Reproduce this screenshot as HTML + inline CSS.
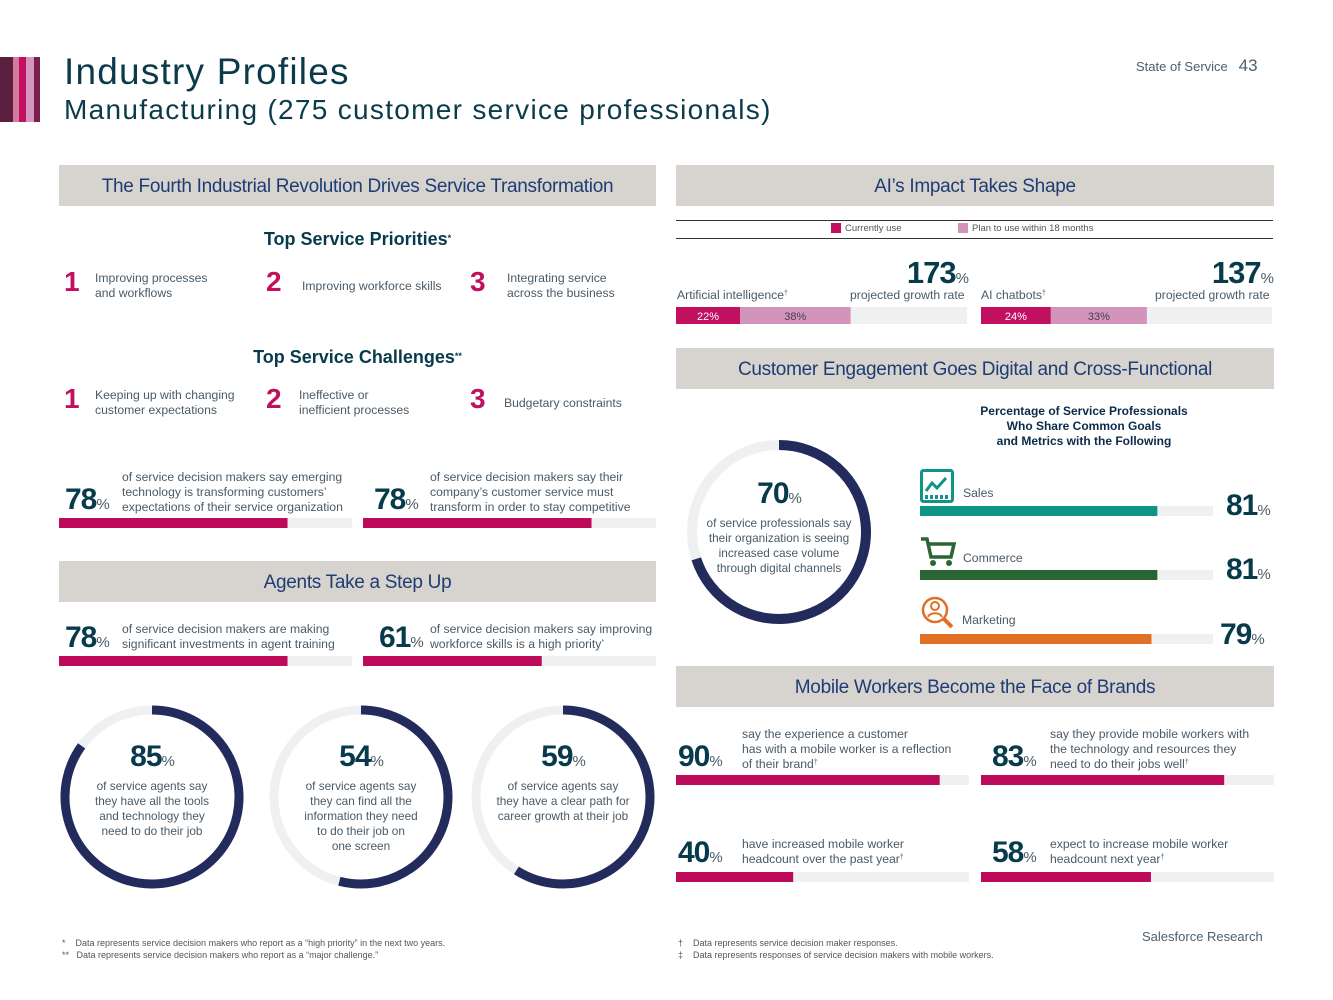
<!DOCTYPE html>
<html><head><meta charset="utf-8"><style>
*{margin:0;padding:0;box-sizing:border-box}
body{width:1333px;height:1000px;background:#fff;position:relative;overflow:hidden;font-family:"Liberation Sans",sans-serif;color:#0b3b4a}
.a{position:absolute}
sup{line-height:0;vertical-align:4px}
.band{position:absolute;background:#d7d3cf;height:41px;color:#1f3c73;font-size:19px;text-align:center;line-height:43px;letter-spacing:-0.3px}
.sm{font-size:12.2px;color:#4a5a66;line-height:15px}
.big{font-weight:bold;color:#073b4c;letter-spacing:-1px}
.pct{font-size:15px;font-weight:normal;color:#4a5a66}
.num{font-size:28px;color:#c0105f;font-weight:bold}
.h3{font-size:18px;font-weight:bold;color:#073b4c;text-align:center}
.ctr{text-align:center}
</style></head><body>
<div class="a" style="left:0;top:57px;width:40px;height:65px;background:linear-gradient(90deg,#5b1f40 0 13px,#d47a9c 13px 19px,#c0105f 19px 26px,#d596bd 26px 34px,#7a1f4c 34px 40px)"></div>
<div class="a" style="left:64px;top:51px;font-size:37px;color:#0b3b4a;letter-spacing:1.2px">Industry Profiles</div>
<div class="a" style="left:64px;top:94px;font-size:28px;color:#0b3b4a;letter-spacing:1.3px">Manufacturing (275 customer service professionals)</div>
<div class="a" style="left:1136px;top:56px;font-size:13px;color:#4a6170">State of Service&nbsp;&nbsp; <span style="font-size:17px">43</span></div>

<div class="band" style="left:59px;top:165px;width:597px">The Fourth Industrial Revolution Drives Service Transformation</div>
<div class="band" style="left:676px;top:165px;width:598px">AI’s Impact Takes Shape</div>

<div class="a h3" style="left:59px;width:597px;top:229px">Top Service Priorities<sup style="font-size:9px">*</sup></div>
<div class="a num" style="left:64px;top:266px">1</div>
<div class="a sm" style="left:95px;top:271px">Improving processes<br>and workflows</div>
<div class="a num" style="left:266px;top:266px">2</div>
<div class="a sm" style="left:302px;top:279px">Improving workforce skills</div>
<div class="a num" style="left:470px;top:266px">3</div>
<div class="a sm" style="left:507px;top:271px">Integrating service<br>across the business</div>

<div class="a h3" style="left:59px;width:597px;top:347px">Top Service Challenges<sup style="font-size:9px">**</sup></div>
<div class="a num" style="left:64px;top:383px">1</div>
<div class="a sm" style="left:95px;top:388px">Keeping up with changing<br>customer expectations</div>
<div class="a num" style="left:266px;top:383px">2</div>
<div class="a sm" style="left:299px;top:388px">Ineffective or<br>inefficient processes</div>
<div class="a num" style="left:470px;top:383px">3</div>
<div class="a sm" style="left:504px;top:396px">Budgetary constraints</div>

<div class="a big" style="left:65px;top:483px;font-size:30px">78<span class="pct">%</span></div>
<div class="a sm" style="left:122px;top:470px">of service decision makers say emerging<br>technology is transforming customers’<br>expectations of their service organization</div>
<div class="a big" style="left:374px;top:483px;font-size:30px">78<span class="pct">%</span></div>
<div class="a sm" style="left:430px;top:470px">of service decision makers say their<br>company’s customer service must<br>transform in order to stay competitive</div>

<div class="band" style="left:59px;top:561px;width:597px">Agents Take a Step Up</div>
<div class="a big" style="left:65px;top:621px;font-size:30px">78<span class="pct">%</span></div>
<div class="a sm" style="left:122px;top:622px">of service decision makers are making<br>significant investments in agent training</div>
<div class="a big" style="left:379px;top:621px;font-size:30px">61<span class="pct">%</span></div>
<div class="a sm" style="left:430px;top:622px">of service decision makers say improving<br>workforce skills is a high priority<sup style="font-size:7px">*</sup></div>

<!-- AI legend -->
<div class="a" style="left:676px;top:220px;width:597px;height:1px;background:#333"></div>
<div class="a" style="left:676px;top:238px;width:597px;height:1px;background:#333"></div>
<div class="a" style="left:831px;top:223px;font-size:9.5px;color:#555"><span style="display:inline-block;width:10px;height:10px;background:#c0105f;vertical-align:-2px;margin-right:4px"></span>Currently use</div>
<div class="a" style="left:958px;top:223px;font-size:9.5px;color:#555"><span style="display:inline-block;width:10px;height:10px;background:#d394bb;vertical-align:-2px;margin-right:4px"></span>Plan to use within 18 months</div>
<div class="a sm" style="left:677px;top:288px">Artificial intelligence<sup style="font-size:7px">†</sup></div>
<div class="a big" style="left:880px;top:255px;font-size:31px;width:88px;text-align:right">173<span class="pct">%</span></div>
<div class="a sm" style="left:850px;top:288px">projected growth rate</div>
<div class="a sm" style="left:981px;top:288px">AI chatbots<sup style="font-size:7px">†</sup></div>
<div class="a big" style="left:1180px;top:255px;font-size:31px;width:93px;text-align:right">137<span class="pct">%</span></div>
<div class="a sm" style="left:1155px;top:288px">projected growth rate</div>

<div class="band" style="left:676px;top:348px;width:598px">Customer Engagement Goes Digital and Cross-Functional</div>
<div class="a ctr" style="left:940px;width:288px;top:404px;font-size:12px;font-weight:bold;line-height:15px;color:#0b2b4a">Percentage of Service Professionals<br>Who Share Common Goals<br>and Metrics with the Following</div>

<svg class="a" style="left:920px;top:469px" width="34" height="34" viewBox="0 0 34 34"><rect x="1.5" y="1.5" width="31" height="31" rx="2" fill="none" stroke="#0f9488" stroke-width="3"/><polyline points="6,22 12,14 17,19 26,9" fill="none" stroke="#0f9488" stroke-width="3"/><path d="M5 28h24" stroke="#0f9488" stroke-width="4" stroke-dasharray="3 2"/></svg>
<div class="a sm" style="left:963px;top:486px">Sales</div>
<svg class="a" style="left:920px;top:537px" width="36" height="30" viewBox="0 0 36 30"><path d="M1 2h6l4 18h20l3-13H9" fill="none" stroke="#2a6634" stroke-width="3.5"/><circle cx="13" cy="26" r="3" fill="#2a6634"/><circle cx="29" cy="26" r="3" fill="#2a6634"/></svg>
<div class="a sm" style="left:963px;top:551px">Commerce</div>
<svg class="a" style="left:920px;top:596px" width="36" height="34" viewBox="0 0 36 34"><circle cx="15" cy="14" r="12" fill="none" stroke="#e07025" stroke-width="2.5"/><circle cx="15" cy="10" r="4" fill="none" stroke="#e07025" stroke-width="2"/><path d="M8 21c2-5 12-5 14 0" fill="none" stroke="#e07025" stroke-width="2"/><path d="M24 23l8 8" stroke="#e07025" stroke-width="4"/></svg>
<div class="a sm" style="left:962px;top:613px">Marketing</div>
<div class="a big" style="left:1226px;top:489px;font-size:30px">81<span class="pct">%</span></div>
<div class="a big" style="left:1226px;top:553px;font-size:30px">81<span class="pct">%</span></div>
<div class="a big" style="left:1220px;top:618px;font-size:30px">79<span class="pct">%</span></div>

<div class="band" style="left:676px;top:666px;width:598px">Mobile Workers Become the Face of Brands</div>
<div class="a big" style="left:678px;top:740px;font-size:30px">90<span class="pct">%</span></div>
<div class="a sm" style="left:742px;top:727px">say the experience a customer<br>has with a mobile worker is a reflection<br>of their brand<sup style="font-size:7px">†</sup></div>
<div class="a big" style="left:992px;top:740px;font-size:30px">83<span class="pct">%</span></div>
<div class="a sm" style="left:1050px;top:727px">say they provide mobile workers with<br>the technology and resources they<br>need to do their jobs well<sup style="font-size:7px">†</sup></div>
<div class="a big" style="left:678px;top:836px;font-size:30px">40<span class="pct">%</span></div>
<div class="a sm" style="left:742px;top:837px">have increased mobile worker<br>headcount over the past year<sup style="font-size:7px">†</sup></div>
<div class="a big" style="left:992px;top:836px;font-size:30px">58<span class="pct">%</span></div>
<div class="a sm" style="left:1050px;top:837px">expect to increase mobile worker<br>headcount next year<sup style="font-size:7px">†</sup></div>

<div class="a" style="left:62px;top:937px;font-size:9px;color:#555;line-height:12px">*&nbsp;&nbsp;&nbsp;&nbsp;Data represents service decision makers who report as a “high priority” in the next two years.<br>**&nbsp;&nbsp;&nbsp;Data represents service decision makers who report as a “major challenge.”</div>
<div class="a" style="left:678px;top:937px;font-size:9px;color:#555;line-height:12px">†&nbsp;&nbsp;&nbsp;&nbsp;Data represents service decision maker responses.<br>‡&nbsp;&nbsp;&nbsp;&nbsp;Data represents responses of service decision makers with mobile workers.</div>
<div class="a" style="left:1142px;top:929px;font-size:13px;color:#4a6170">Salesforce Research</div>

<svg id="charts" class="a" style="left:0;top:0" width="1333" height="1000"></svg>
<div id="donutText"></div>

<script>
// Horizontal stat bars
const statLabels = ["emerging-tech","must-transform","agent-training","workforce-skills","reflection","tech-resources","headcount-past","headcount-next","sales","commerce","marketing"];
const statValues = [78,78,78,61,90,83,40,58,81,81,79];
const statX = [59,363,59,363,676,981,676,981,920,920,920];
const statY = [518,518,656,656,775,775,872,872,506,570,634];
const statW = [293,293,293,293,293,293,293,293,293,293,293];
const statColor = ["#bd0a5a","#bd0a5a","#bd0a5a","#bd0a5a","#bd0a5a","#bd0a5a","#bd0a5a","#bd0a5a","#0f9488","#2a6634","#e07025"];
// AI stacked bars
const aiCategories = ["artificial-intelligence","ai-chatbots"];
const aiCurrent = [22,24];
const aiPlan = [38,33];
const aiX = [676,981];
// Donuts
const donutNames = ["tools","information","career-path","digital-case-volume"];
const donutValues = [85,54,59,70];
const donutCx = [152,361,563,779];
const donutCy = [797,797,797,532];
const donutR = [87,87,87,87];
const donutStroke = [9,9,9,10];
const donutTop = [740,740,740,477];
const donutText = [
 ["of service agents say","they have all the tools","and technology they","need to do their job"],
 ["of service agents say","they can find all the","information they need","to do their job on","one screen"],
 ["of service agents say","they have a clear path for","career growth at their job"],
 ["of service professionals say","their organization is seeing","increased case volume","through digital channels"]];

const NS="http://www.w3.org/2000/svg";
const svg=document.getElementById('charts');
function mk(tag,attrs){const e=document.createElementNS(NS,tag);for(const k in attrs)e.setAttribute(k,attrs[k]);svg.appendChild(e);return e;}
const xs=(v,w)=>v/100*w;

statValues.forEach((v,i)=>{
  const t=mk('rect',{x:statX[i],y:statY[i],width:statW[i],height:10,fill:'#eff0f2'});
  
  
  const b=mk('rect',{x:statX[i],y:statY[i],width:xs(v,statW[i]),height:10,fill:statColor[i]});
  
  
});

const aiW=291;
aiCategories.forEach((c,i)=>{
  const t=mk('rect',{x:aiX[i],y:307,width:aiW,height:17,fill:'#eff0f2'});
  
  
  const w1=xs(aiCurrent[i],aiW), w2=xs(aiPlan[i],aiW);
  const b1=mk('rect',{x:aiX[i],y:307,width:w1,height:17,fill:'#c0105f'});
  
  
  const b2=mk('rect',{x:aiX[i]+w1,y:307,width:w2,height:17,fill:'#d394bb'});
  
  
  const t1=mk('text',{x:aiX[i]+w1/2,y:320,'text-anchor':'middle','font-size':11,fill:'#fff','font-family':'Liberation Sans'});
  t1.textContent=aiCurrent[i]+'%';
  
  
  const t2=mk('text',{x:aiX[i]+w1+w2/2,y:320,'text-anchor':'middle','font-size':11,fill:'#4a3a55','font-family':'Liberation Sans'});
  t2.textContent=aiPlan[i]+'%';
  
  
});

const dt=document.getElementById('donutText');
donutValues.forEach((v,i)=>{
  const cx=donutCx[i],cy=donutCy[i],r=donutR[i];
  const tr=mk('circle',{cx,cy,r,fill:'none',stroke:'#eff0f2','stroke-width':donutStroke[i]});
  
  
  const a=v/100*2*Math.PI;
  const x2=cx+r*Math.sin(a), y2=cy-r*Math.cos(a);
  const arc=mk('path',{d:`M${cx} ${cy-r} A${r} ${r} 0 ${v>50?1:0} 1 ${x2} ${y2}`,fill:'none',stroke:'#232a5c','stroke-width':donutStroke[i]});
  
  
  const d=document.createElement('div');
  d.className='a ctr';
  d.style.cssText=`left:${cx-80}px;width:160px;top:${donutTop[i]}px`;
  
  
  d.innerHTML=`<div class="big" style="font-size:30px;line-height:34px">${v}<span class="pct">%</span></div><div class="sm" style="font-size:11.8px">${donutText[i].join('<br>')}</div>`;
  dt.appendChild(d);
});
</script>
</body></html>
